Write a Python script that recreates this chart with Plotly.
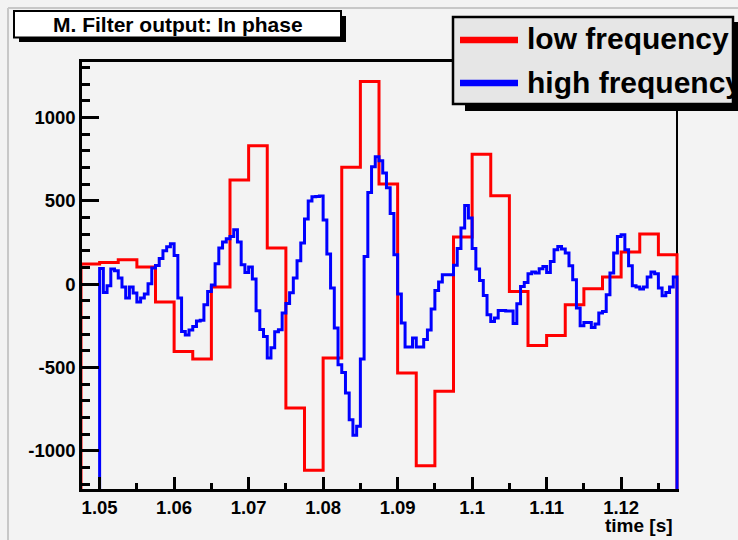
import plotly.graph_objects as go

# Matched-filter output, in-phase component: two binned histograms
red_t0, red_width = 1.0475, 0.0025
red_values = [121, 131, 147, 103, -107, -403, -449, -17, 625, 831, 217, -743,
              -1117, -443, 703, 1217, 601, -533, -1089, -643, 283, 781, 531, -43,
              -367, -307, -123, -27, 43, 193, 301, 177]

blue_t0, blue_width = 1.05, 0.0005
blue_values = [94, -49, -9, 91, 81, 37, -17, -83, -17, -53, -107, -83, -59, 3, 97, 112,
               155, 201, 225, 243, 172, -83, -283, -305, -275, -253, -220, -216, -123, -43,
               -5, 123, 217, 253, 273, 287, 327, 253, 117, 71, 103, 31, -159, -271, -313,
               -443, -381, -285, -273, -173, -116, -51, 37, 141, 247, 391, 500, 525, 527,
               529, 385, 182, -23, -263, -483, -529, -653, -813, -907, -853, -449, 167, 551,
               705, 765, 742, 667, 579, 425, 177, -58, -233, -377, -377, -323, -377, -377,
               -331, -275, -148, -37, 13, 57, 57, 57, 114, 215, 337, 472, 397, 215, 92, 22,
               -68, -183, -223, -203, -157, -157, -160, -160, -236, -117, -13, 11, 63, 73,
               67, 93, 107, 71, 137, 207, 227, 211, 187, 111, 27, -143, -249, -229, -229,
               -259, -239, -173, -163, -63, 67, 187, 287, 297, 207, 111, -9, -17, -29, -17,
               43, 73, 63, -23, -69, -49, -17, 43]

series_names = ["low frequency", "high frequency"]
series_colors = ["#ff0000", "#0000ff"]

x_ticks = [1.05, 1.06, 1.07, 1.08, 1.09, 1.10, 1.11, 1.12]
x_tick_labels = ["1.05", "1.06", "1.07", "1.08", "1.09", "1.1", "1.11", "1.12"]
y_ticks = [-1000, -500, 0, 500, 1000]
y_tick_labels = ["-1000", "-500", "0", "500", "1000"]

x_title = "time [s]"
plot_title = "M. Filter output: In phase"

X_LO, X_HI = 1.0475, 1.1275
Y_LO, Y_HI = -1229, 1334

# ---- page geometry (pixels) ----
W, H = 738, 540
FRAME_L, FRAME_R = 81, 677          # pixel positions of X_LO / X_HI
PLOT_L, PLOT_R = 82, 679            # plotting area (slightly wider on the right)
PLOT_T, PLOT_B = 62, 489

px_per_x = (FRAME_R - FRAME_L) / (X_HI - X_LO)
x_range = [X_LO + (PLOT_L - FRAME_L) / px_per_x, X_HI + (PLOT_R - FRAME_R) / px_per_x]

FONT = "Liberation Sans"
BG = "#f3f3f3"


def px_x(p):
    return (p - PLOT_L) / (PLOT_R - PLOT_L)


def px_y(p):
    return (PLOT_B - p) / (PLOT_B - PLOT_T)


def step_outline(t0, width, values, floor):
    """ROOT-style histogram outline: rises from the frame floor, steps, drops back."""
    n = len(values)
    xs = [t0] + [t0 + i * width for i in range(n)] + [t0 + n * width, t0 + n * width]
    ys = [floor] + list(values) + [values[-1], floor]
    return xs, ys


floor = Y_LO - 200
fig = go.Figure()
for (t0, wdt, vals), name, color in zip(
        [(red_t0, red_width, red_values), (blue_t0, blue_width, blue_values)],
        series_names, series_colors):
    xs, ys = step_outline(t0, wdt, vals, floor)
    fig.add_trace(go.Scatter(x=xs, y=ys, mode="lines", name=name,
                             line=dict(color=color, width=3, shape="hv"),
                             showlegend=False, hoverinfo="skip"))

shapes = []
# canvas bevel lines
shapes.append(dict(type="line", xref="paper", yref="paper", x0=px_x(8), x1=px_x(8),
                   y0=px_y(8), y1=px_y(H + 5), line=dict(color="#c8c8c8", width=2)))
shapes.append(dict(type="line", xref="paper", yref="paper", x0=px_x(8), x1=px_x(W + 5),
                   y0=px_y(8), y1=px_y(8), line=dict(color="#c8c8c8", width=2)))
# right side of the frame (beneath the histograms)
shapes.append(dict(type="line", xref="paper", yref="paper", layer="below",
                   x0=px_x(FRAME_R), x1=px_x(FRAME_R), y0=px_y(PLOT_T), y1=px_y(PLOT_B),
                   line=dict(color="black", width=2)))
# title box with shadow
shapes.append(dict(type="rect", xref="paper", yref="paper", x0=px_x(19), x1=px_x(346),
                   y0=px_y(16), y1=px_y(42), fillcolor="black", line=dict(width=0)))
shapes.append(dict(type="rect", xref="paper", yref="paper", x0=px_x(14), x1=px_x(341),
                   y0=px_y(11), y1=px_y(37.5), fillcolor="#ffffff",
                   line=dict(color="black", width=2)))
# legend box with shadow
shapes.append(dict(type="rect", xref="paper", yref="paper", x0=px_x(465), x1=px_x(W + 20),
                   y0=px_y(22), y1=px_y(111), fillcolor="black", line=dict(width=0)))
shapes.append(dict(type="rect", xref="paper", yref="paper", x0=px_x(453), x1=px_x(733),
                   y0=px_y(17), y1=px_y(104), fillcolor="#e6e6e6",
                   line=dict(color="black", width=2.5)))

annotations = [
    dict(text=plot_title, xref="paper", yref="paper", x=px_x(178), y=px_y(24.5),
         xanchor="center", yanchor="middle", showarrow=False,
         font=dict(family=FONT, size=21, color="black", weight="bold")),
    dict(text=x_title, xref="paper", yref="paper", x=px_x(675), y=px_y(525.5),
         xanchor="right", yanchor="middle", showarrow=False,
         font=dict(family=FONT, size=19, color="black", weight="bold")),
]

legend_rows = [40, 83]
for name, color, yrow in zip(series_names, series_colors, legend_rows):
    shapes.append(dict(type="line", xref="paper", yref="paper", x0=px_x(460), x1=px_x(518),
                       y0=px_y(yrow), y1=px_y(yrow), line=dict(color=color, width=6.5)))
    annotations.append(dict(text=name, xref="paper", yref="paper", x=px_x(525), y=px_y(yrow - 1),
                            xanchor="left", yanchor="middle", showarrow=False,
                            font=dict(family=FONT, size=30, color="black", weight="bold")))

tick_font = dict(family=FONT, size=18.5, color="black", weight="bold")

fig.update_layout(
    width=W, height=H,
    margin=dict(l=PLOT_L, r=W - PLOT_R, t=PLOT_T, b=H - PLOT_B, pad=0),
    paper_bgcolor=BG, plot_bgcolor=BG,
    shapes=shapes, annotations=annotations,
    showlegend=False,
    xaxis=dict(range=x_range, tickmode="array", tickvals=x_ticks, ticktext=x_tick_labels,
               ticks="inside", ticklen=12, tickwidth=2.5, tickcolor="black",
               minor=dict(tickmode="linear", tick0=1.05, dtick=0.005, ticks="inside",
                          ticklen=6, tickwidth=2.5, tickcolor="black", showgrid=False),
               showline=True, linecolor="black", linewidth=2.5, mirror=True,
               showgrid=False, zeroline=False, tickfont=tick_font),
    yaxis=dict(range=[Y_LO, Y_HI], tickmode="array", tickvals=y_ticks, ticktext=y_tick_labels,
               ticks="inside", ticklen=17, tickwidth=2.5, tickcolor="black",
               minor=dict(tickmode="linear", tick0=0, dtick=100, ticks="inside",
                          ticklen=8, tickwidth=2.5, tickcolor="black", showgrid=False),
               showline=True, linecolor="black", linewidth=2.5,
               showgrid=False, zeroline=False, tickfont=tick_font),
)

fig.write_html("out.html")
